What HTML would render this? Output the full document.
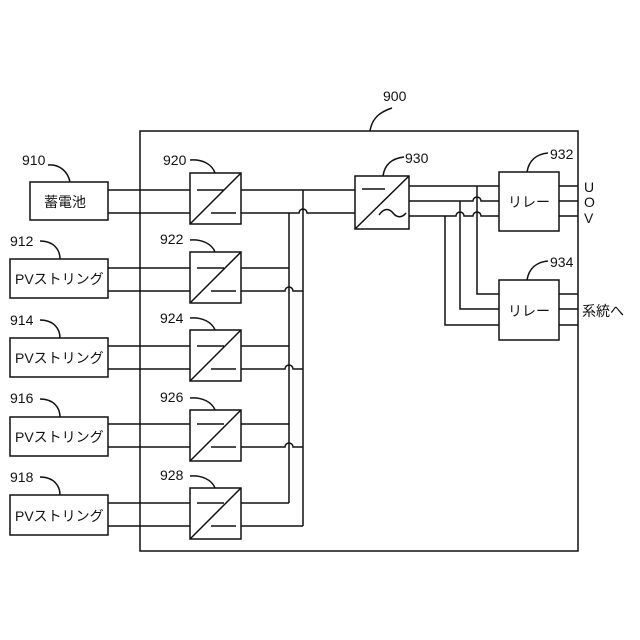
<!DOCTYPE html>
<html><head><meta charset="utf-8"><style>body{margin:0;background:#fff}svg{display:block}
text{font-family:"Liberation Sans","Noto Sans CJK JP",sans-serif;fill:#111}</style></head><body>
<svg width="640" height="640" viewBox="0 0 640 640" xmlns="http://www.w3.org/2000/svg">
<g fill="none" stroke="#111" stroke-width="1.5">
<rect x="140" y="131" width="438" height="420"/>
<path d="M370 131 C372 118 380 112 392 108"/>
<!-- battery -->
<rect x="30" y="182" width="78" height="38"/>
<path d="M108 190H190M108 213H190"/>
<!-- converters -->
<g id="cv">
</g>
<rect x="190" y="173" width="51" height="51"/><path d="M190 224L241 173M197 190H224M211 213H236"/>
<rect x="190" y="252" width="51" height="51"/><path d="M190 303L241 252M197 268H224M211 291H236"/>
<rect x="190" y="330" width="51" height="51"/><path d="M190 381L241 330M197 346H224M211 369H236"/>
<rect x="190" y="410" width="51" height="51"/><path d="M190 461L241 410M197 424H224M211 447H236"/>
<rect x="190" y="488" width="51" height="51"/><path d="M190 539L241 488M197 503H224M211 526H236"/>
<!-- PV boxes -->
<rect x="10" y="259" width="98" height="39"/><path d="M108 268H190M108 291H190"/>
<rect x="10" y="338" width="98" height="39"/><path d="M108 346H190M108 369H190"/>
<rect x="10" y="417" width="98" height="39"/><path d="M108 424H190M108 447H190"/>
<rect x="10" y="495" width="98" height="40"/><path d="M108 503H190M108 526H190"/>
<!-- buses -->
<path d="M303 190V526M289 213V503"/>
<path d="M241 190H355"/>
<path d="M241 213H299 a4 4 0 0 1 8 0H355"/>
<path d="M241 268H289"/>
<path d="M241 291H285 a4 4 0 0 1 8 0H303"/>
<path d="M241 346H289"/>
<path d="M241 369H285 a4 4 0 0 1 8 0H303"/>
<path d="M241 424H289"/>
<path d="M241 447H285 a4 4 0 0 1 8 0H303"/>
<path d="M241 503H289"/>
<path d="M241 526H303"/>
<!-- 930 -->
<rect x="355" y="176" width="54" height="53"/><path d="M355 229L409 176M362 189H385M379 215c5-7 10-7 14-2s9 5 13 0"/>
<path d="M383 176C385 162 395 158 404 157"/>
<path d="M409 186H499"/>
<path d="M409 201H473 a4 4 0 0 1 8 0H499"/>
<path d="M409 216H456 a4 4 0 0 1 8 0H473 a4 4 0 0 1 8 0H499"/>
<path d="M477 186V294H499M460 201V309H499M445 216V325H499"/>
<!-- relays -->
<rect x="499" y="172" width="60" height="59"/><rect x="499" y="280" width="60" height="60"/>
<path d="M559 186H578M559 201H578M559 216H578M559 294H578M559 309H578M559 325H578"/>
<path d="M527 172C529 160 537 154 548 153"/><path d="M527 280C529 268 537 262 548 261"/>
<!-- leaders -->
<path d="M48 165C60 164 68 172 70 182"/>
<path d="M40 241C54 241 60 250 60 259"/>
<path d="M40 320C54 320 60 329 60 338"/>
<path d="M40 399C54 399 60 408 60 417"/>
<path d="M40 477C54 477 60 486 60 495"/>
<path d="M190 160C202 159 212 164 215 173"/>
<path d="M190 240C202 239 212 244 215 252"/>
<path d="M190 318C202 317 212 322 215 330"/>
<path d="M190 398C202 397 212 402 215 410"/>
<path d="M190 476C202 475 212 480 215 488"/>
</g>
<g font-size="14">
<text x="383" y="101">900</text>
<text x="22" y="165">910</text>
<text x="10" y="246">912</text><text x="10" y="325">914</text><text x="10" y="403">916</text><text x="10" y="482">918</text>
<text x="163" y="165">920</text><text x="160" y="244">922</text><text x="160" y="323">924</text><text x="160" y="402">926</text><text x="160" y="480">928</text>
<text x="405" y="163">930</text><text x="550" y="159">932</text><text x="550" y="267">934</text>
<text x="44" y="207">蓄電池</text>
<text x="15" y="284">PVストリング</text><text x="15" y="363">PVストリング</text><text x="15" y="442">PVストリング</text><text x="15" y="521">PVストリング</text>
<text x="508" y="207">リレー</text><text x="508" y="316">リレー</text>
<text x="584" y="192">U</text><text x="584" y="207">O</text><text x="584" y="223">V</text>
<text x="582" y="316">系統へ</text>
</g>
</svg></body></html>
